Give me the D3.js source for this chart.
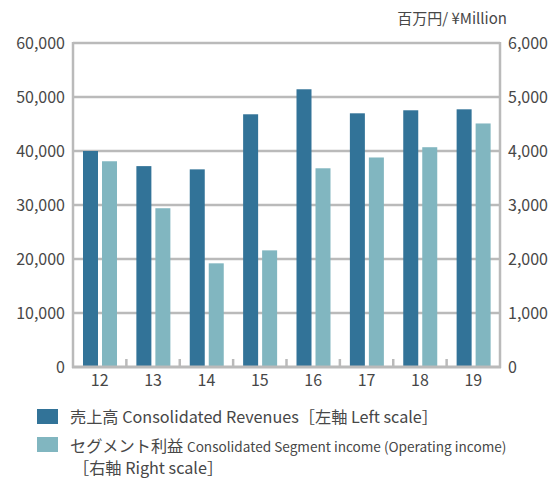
<!DOCTYPE html>
<html>
<head>
<meta charset="utf-8">
<script src="https://cdn.jsdelivr.net/npm/d3@7"></script>
<style>
  body { margin: 0; background: #fff; }
  svg { display: block; font-family: "Noto Sans CJK JP", "Noto Sans", sans-serif; }
</style>
</head>
<body>
<svg id="chart" width="551" height="478"></svg>
<script>
// fiscal years
var years = ['12', '13', '14', '15', '16', '17', '18', '19'];
// 売上高 (left axis, ¥ million)
var revenues = [40000, 37200, 36600, 46800, 51430, 46980, 47540, 47720];
// セグメント利益 (right axis, ¥ million)
var segIncome = [3810, 2940, 1920, 2160, 3680, 3880, 4070, 4510];
var leftTicks = [0, 10000, 20000, 30000, 40000, 50000, 60000];
var rightTicks = [0, 1000, 2000, 3000, 4000, 5000, 6000];

var margin = {left: 73, right: 51, top: 43, bottom: 111};
var width = 551, height = 478;
var plotBottom = height - margin.bottom;  // y of 0
var plotRight = width - margin.right;

var darkBlue = '#327398';
var lightBlue = '#81b6c0';
var gridCol = '#bababa';
var textCol = '#474747';

var svg = d3.select('#chart');

var x0 = d3.scaleBand().domain(years).range([margin.left, plotRight]);
var x1 = d3.scaleBand().domain(['rev', 'seg'])
           .range([10, 44]).paddingInner(0.2105);

var yLeft = d3.scaleLinear().domain([0, 60000]).range([plotBottom, margin.top]);
var yRight = d3.scaleLinear().domain([0, 6000]).range([plotBottom, margin.top]);

// horizontal grid
svg.append('g')
  .selectAll('line')
  .data(leftTicks.filter(function(d) { return d > 0; }))
  .enter()
  .append('line')
    .attr('x1', margin.left)
    .attr('x2', plotRight)
    .attr('y1', function(d) { return yLeft(d); })
    .attr('y2', function(d) { return yLeft(d); })
    .style('stroke', gridCol)
    .style('stroke-width', 2.5);

// bars
var groups = svg.append('g')
  .selectAll('g')
  .data(years)
  .enter()
  .append('g')
    .attr('transform', function(d) { return 'translate(' + x0(d) + ',0)'; });

groups.append('rect')
  .attr('x', x1('rev'))
  .attr('width', x1.bandwidth())
  .attr('y', function(d, i) { return yLeft(revenues[i]); })
  .attr('height', function(d, i) { return plotBottom - yLeft(revenues[i]); })
  .style('fill', darkBlue);

groups.append('rect')
  .attr('x', x1('seg'))
  .attr('width', x1.bandwidth())
  .attr('y', function(d, i) { return yRight(segIncome[i]); })
  .attr('height', function(d, i) { return plotBottom - yRight(segIncome[i]); })
  .style('fill', lightBlue);

// small ticks between categories
svg.append('g')
  .selectAll('line')
  .data(years.slice(1))
  .enter()
  .append('line')
    .attr('x1', function(d) { return x0(d); })
    .attr('x2', function(d) { return x0(d); })
    .attr('y1', plotBottom - 8)
    .attr('y2', plotBottom)
    .style('stroke', gridCol)
    .style('stroke-width', 2.5);

// frame lines
svg.append('line')
  .attr('x1', margin.left).attr('x2', margin.left)
  .attr('y1', margin.top - 1).attr('y2', plotBottom + 1)
  .style('stroke', gridCol).style('stroke-width', 2.5);
svg.append('line')
  .attr('x1', plotRight).attr('x2', plotRight)
  .attr('y1', margin.top - 1).attr('y2', plotBottom + 1)
  .style('stroke', gridCol).style('stroke-width', 2.5);
svg.append('line')
  .attr('x1', margin.left - 1).attr('x2', plotRight + 1)
  .attr('y1', plotBottom).attr('y2', plotBottom)
  .style('stroke', gridCol).style('stroke-width', 3);

// axes (labels only)
var fmt = d3.format(',');
var leftAxis = d3.axisLeft(yLeft).tickValues(leftTicks).tickFormat(fmt).tickSize(0).tickPadding(8);
var rightAxis = d3.axisRight(yRight).tickValues(rightTicks).tickFormat(fmt).tickSize(0).tickPadding(8);
var bottomAxis = d3.axisBottom(x0).tickSize(0).tickPadding(8);

function styleAxis(g) {
  g.select('.domain').remove();
  g.selectAll('text')
    .style('font-family', '"Noto Sans CJK JP", sans-serif')
    .style('font-size', '16px')
    .style('fill', textCol);
}

svg.append('g')
  .attr('transform', 'translate(' + margin.left + ',0)')
  .call(leftAxis).call(styleAxis);
svg.append('g')
  .attr('transform', 'translate(' + plotRight + ',0)')
  .call(rightAxis).call(styleAxis);
svg.append('g')
  .attr('transform', 'translate(0,' + plotBottom + ')')
  .call(bottomAxis).call(styleAxis);

// unit label
svg.append('text')
  .attr('x', 507).attr('y', 24)
  .attr('text-anchor', 'end')
  .style('font-size', '15px')
  .style('fill', textCol)
  .text('百万円/ ¥Million');

// legend
var legend = svg.append('g');
legend.append('rect')
  .attr('x', 37).attr('y', 409).attr('width', 21).attr('height', 15)
  .style('fill', darkBlue);
legend.append('rect')
  .attr('x', 37).attr('y', 437).attr('width', 21).attr('height', 15)
  .style('fill', lightBlue);

legend.append('text')
  .attr('x', 70).attr('y', 423)
  .style('font-size', '16.2px')
  .style('fill', textCol)
  .text('売上高 Consolidated Revenues［左軸 Left scale］');

var t2 = legend.append('text')
  .attr('x', 70).attr('y', 452)
  .style('fill', textCol);
t2.append('tspan').style('font-size', '16.2px').text('セグメント利益 ');
t2.append('tspan').style('font-size', '13.6px').text('Consolidated Segment income (Operating income)');

legend.append('text')
  .attr('x', 73).attr('y', 474)
  .style('font-size', '16.2px')
  .style('fill', textCol)
  .text('［右軸 Right scale］');
</script>
</body>
</html>
